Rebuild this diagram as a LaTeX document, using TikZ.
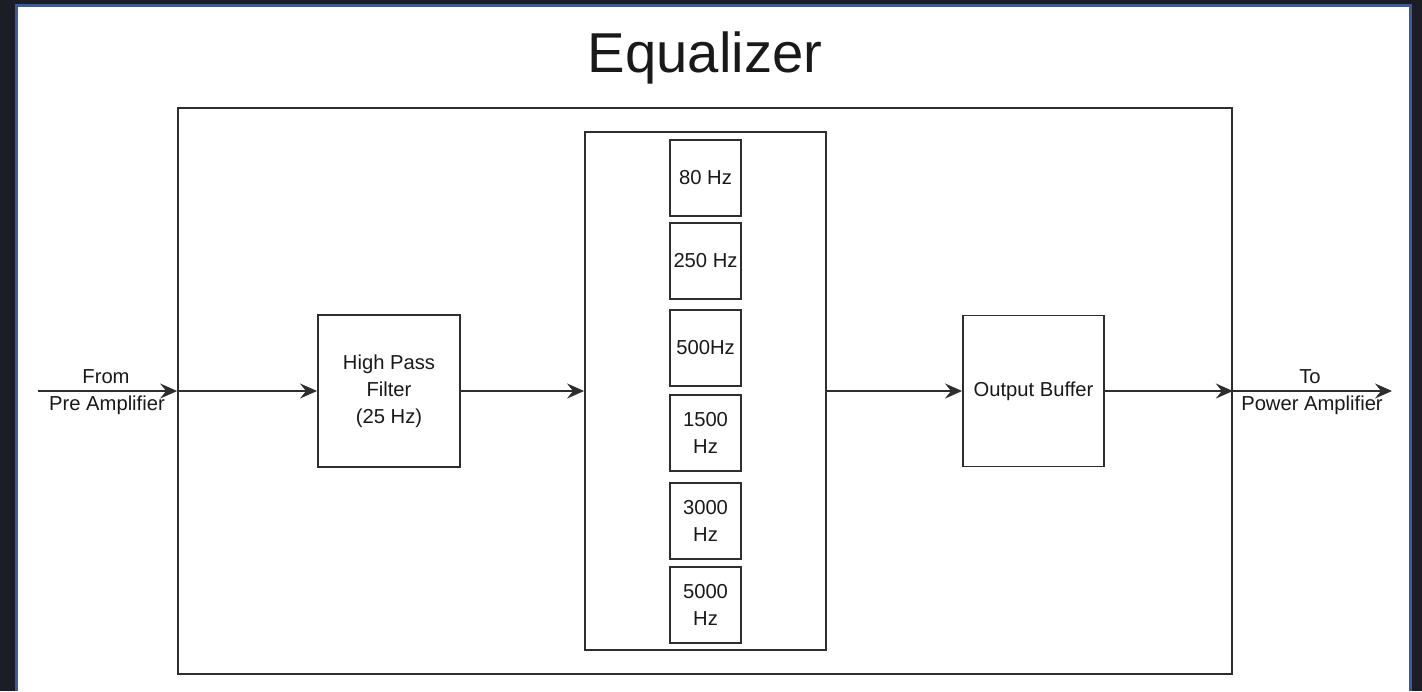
\documentclass[tikz,border=0pt]{standalone}
\usepackage{fontspec}
\setmainfont{Liberation Sans}
\usetikzlibrary{arrows.meta, positioning}
\definecolor{eqdark}{HTML}{1B1E26}
\definecolor{eqblue}{HTML}{3A5C9A}
\definecolor{eqline}{HTML}{2E2E2E}
\tikzset{
  eqbox/.style={draw=eqline, line width=1.1pt, fill=white, align=center, inner sep=0pt,
    font=\fontsize{11.5}{15.5}\selectfont, text=black!90},
  eqarrow/.style={-{Stealth[length=3.4mm, width=3mm, inset=1.2mm]}, line width=1.1pt, eqline},
  eqlabel/.style={font=\fontsize{11.5}{13}\selectfont, text=black!90, inner sep=0pt},
}
\begin{document}
\begin{tikzpicture}[x=0.02cm,y=-0.02cm]
  % Hintergrund mit Rahmen
  \fill[eqdark] (0,0) rectangle (1422,691);
  \fill[eqblue] (15,4) rectangle (1412,691);
  \fill[white] (18,7) rectangle (1409,691);
  \node[font=\fontsize{32}{36}\selectfont, text=black!90] (title) at (705,58) {Equalizer};
  % Bloecke
  \node[eqbox, minimum width=21.08cm, minimum height=11.34cm] (eq) at (705,391) {};
  \node[eqbox, minimum width=2.84cm, minimum height=3.04cm] (hpf) at (389,391) {High Pass\\Filter\\(25 Hz)};
  \node[eqbox, minimum width=4.82cm, minimum height=10.36cm] (bank) at (705.5,391) {};
  \node[eqbox, minimum width=2.82cm, minimum height=3.02cm] (buf) at (1033.5,391) {Output Buffer};
  % Filterbank
  \foreach \i/\y/\txt in {1/178/80 Hz,2/261/250 Hz,3/348/500Hz,4/433/1500\\Hz,5/521/3000\\Hz,6/605/5000\\Hz} {
    \node[eqbox, minimum width=1.42cm, minimum height=1.52cm] (f\i) at (705.5,\y) {\txt};
  }
  % Signalweg
  \coordinate (in) at (38,391);
  \coordinate (out) at (1392,391);
  \draw[eqarrow] (in) -- (eq.west);
  \draw[eqarrow] (eq.west) -- (hpf.west);
  \draw[eqarrow] (hpf.east) -- (bank.west);
  \draw[eqarrow] (bank.east) -- (buf.west);
  \draw[eqarrow] (buf.east) -- (eq.east);
  \draw[eqarrow] (eq.east) -- (out);
  \node[eqlabel] (from) at (106,377) {From};
  \node[eqlabel] (pre) at (107,405) {Pre Amplifier};
  \node[eqlabel] (to) at (1310,377) {To};
  \node[eqlabel] (power) at (1312,405) {Power Amplifier};
\end{tikzpicture}
\end{document}
